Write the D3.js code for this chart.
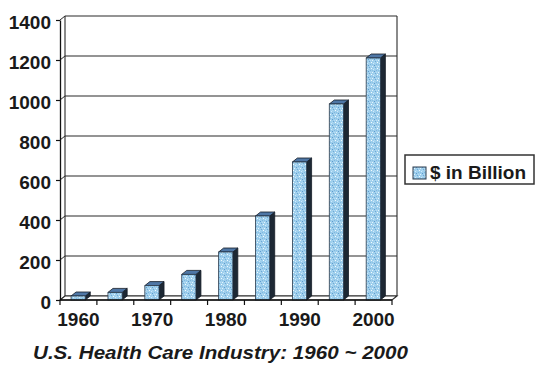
<!DOCTYPE html>
<html>
<head>
<meta charset="utf-8">
<script src="https://cdn.jsdelivr.net/npm/d3@7"></script>
<style>
  html, body { margin: 0; padding: 0; background: #fff; }
  svg { display: block; }
  text { font-family: "Liberation Sans", Arial, sans-serif; font-weight: bold; fill: #1a1a1a; }
</style>
</head>
<body>
<svg id="chart" width="537" height="365"></svg>
<script>
// ---- data ----
const years = ["1960", "1965", "1970", "1975", "1980", "1985", "1990", "1995", "2000"];
const spending = [20, 38, 72, 128, 240, 420, 690, 980, 1210];
const yTicks = [0, 200, 400, 600, 800, 1000, 1200, 1400];
const xLabels = ["1960", "1970", "1980", "1990", "2000"];
const seriesName = "$ in Billion";
const title = "U.S. Health Care Industry: 1960 ~ 2000";

// ---- layout ----
const svg = d3.select("#chart");
const x = d3.scaleBand().domain(years).range([60, 392]).padding(0);
const y = d3.scaleLinear().domain([0, 1400]).range([300, 20]);
const dX = 5, dY = -4;      // wall depth offset
const bw = x.bandwidth();
const barOff = 0.30 * bw, barW = 0.385 * bw, bdX = 5, bdY = -4;

// stipple pattern
const defs = svg.append("defs");
const pat = defs.append("pattern").attr("id", "stip").attr("width", 6).attr("height", 6)
  .attr("patternUnits", "userSpaceOnUse");
pat.append("rect").attr("width", 6).attr("height", 6).attr("fill", "#9fcfec");
const dots = [[0,0,"#e2f3ff"],[3,1,"#6fa8d6"],[1,3,"#cfeaff"],[4,4,"#7eb6e0"],[5,2,"#f4fbff"],[2,5,"#5f9bd0"],[4,0,"#b8ddf5"],[0,4,"#8cc2e6"],[2,2,"#b0d9f2"]];
dots.forEach(d => pat.append("rect").attr("x", d[0]).attr("y", d[1]).attr("width", 1).attr("height", 1).attr("fill", d[2]));

const x0 = x.range()[0], x1 = x.range()[1];
const yTop = y(1400), yBot = y(0);
const lineCol = "#2a2a2a";

// back wall gridlines
svg.append("g").selectAll("line").data(yTicks).join("line")
  .attr("x1", x0 + dX).attr("x2", x1 + dX)
  .attr("y1", d => y(d) + dY).attr("y2", d => y(d) + dY)
  .attr("stroke", lineCol).attr("stroke-width", 1.1);
// side wall gridlines (diagonals)
svg.append("g").selectAll("line").data(yTicks).join("line")
  .attr("x1", x0).attr("x2", x0 + dX)
  .attr("y1", d => y(d)).attr("y2", d => y(d) + dY)
  .attr("stroke", lineCol).attr("stroke-width", 1);
// back wall edges
svg.append("line").attr("x1", x0 + dX).attr("x2", x0 + dX).attr("y1", yTop + dY).attr("y2", yBot + dY)
  .attr("stroke", lineCol).attr("stroke-width", 1.1);
svg.append("line").attr("x1", x1 + dX).attr("x2", x1 + dX).attr("y1", yTop + dY).attr("y2", yBot + dY)
  .attr("stroke", lineCol).attr("stroke-width", 1.1);
// floor
svg.append("path")
  .attr("d", `M${x0},${yBot}L${x1},${yBot}L${x1 + dX},${yBot + dY}L${x0 + dX},${yBot + dY}Z`)
  .attr("fill", "#fff").attr("stroke", lineCol).attr("stroke-width", 1.1);

// bars
const bars = svg.append("g").selectAll("g").data(years.map((yr, i) => ({ yr, v: spending[i] }))).join("g");
bars.append("path") // side
  .attr("d", d => {
    const l = x(d.yr) + barOff + barW, t = y(d.v), b = y(0);
    return `M${l},${t}L${l + bdX},${t + bdY}L${l + bdX},${b + bdY}L${l},${b}Z`;
  })
  .attr("fill", "#1d2834").attr("stroke", "#141c26").attr("stroke-width", 0.8);
bars.append("path") // top
  .attr("d", d => {
    const l = x(d.yr) + barOff, t = y(d.v);
    return `M${l},${t}L${l + bdX},${t + bdY}L${l + barW + bdX},${t + bdY}L${l + barW},${t}Z`;
  })
  .attr("fill", "#4f77a6").attr("stroke", "#141c26").attr("stroke-width", 0.8);
bars.append("rect") // front
  .attr("x", d => x(d.yr) + barOff).attr("y", d => y(d.v))
  .attr("width", barW).attr("height", d => y(0) - y(d.v))
  .attr("fill", "url(#stip)").attr("stroke", "#2a3a4c").attr("stroke-width", 0.8);

// y axis
const yAxis = svg.append("g").attr("transform", `translate(${x0},0)`)
  .call(d3.axisLeft(y).tickValues(yTicks).tickFormat(d3.format("d")).tickSize(4).tickPadding(5).tickSizeOuter(0));
yAxis.select(".domain").attr("stroke", "#111").attr("stroke-width", 1.3);
yAxis.selectAll(".tick line").attr("stroke", "#111").attr("stroke-width", 1.2);
yAxis.selectAll("text").attr("font-size", 19).attr("font-family", "Liberation Sans, Arial, sans-serif")
  .attr("font-weight", "bold").attr("fill", "#1a1a1a").attr("dy", "0.45em");

// x axis: boundary ticks
svg.append("line").attr("x1", x0).attr("x2", x1).attr("y1", yBot).attr("y2", yBot)
  .attr("stroke", "#111").attr("stroke-width", 1.3);
const bounds = years.map(d => x(d)).concat([x1]);
svg.append("g").selectAll("line").data(bounds).join("line")
  .attr("x1", d => d).attr("x2", d => d).attr("y1", yBot).attr("y2", yBot + 5)
  .attr("stroke", "#111").attr("stroke-width", 1.2);
// x labels
const xAxis = svg.append("g").attr("transform", `translate(0,${yBot})`)
  .call(d3.axisBottom(x).tickSize(0).tickPadding(13).tickFormat(d => xLabels.includes(d) ? d : ""));
xAxis.select(".domain").remove();
xAxis.selectAll("text").attr("font-size", 19).attr("font-family", "Liberation Sans, Arial, sans-serif")
  .attr("font-weight", "bold").attr("fill", "#1a1a1a");

// legend
const lg = svg.append("g");
lg.append("rect").attr("x", 405).attr("y", 155).attr("width", 129).attr("height", 29)
  .attr("fill", "#fff").attr("stroke", "#333").attr("stroke-width", 1.5);
lg.append("rect").attr("x", 413).attr("y", 167).attr("width", 13).attr("height", 12)
  .attr("fill", "url(#stip)").attr("stroke", "#2a3a4c").attr("stroke-width", 1);
lg.append("text").attr("x", 430).attr("y", 179).attr("font-size", 19).text(seriesName);

// title
svg.append("text").attr("x", 33).attr("y", 359).attr("font-size", 19).attr("font-style", "italic")
  .attr("textLength", 375).attr("lengthAdjust", "spacingAndGlyphs").attr("fill", "#222").text(title);
</script>
</body>
</html>
